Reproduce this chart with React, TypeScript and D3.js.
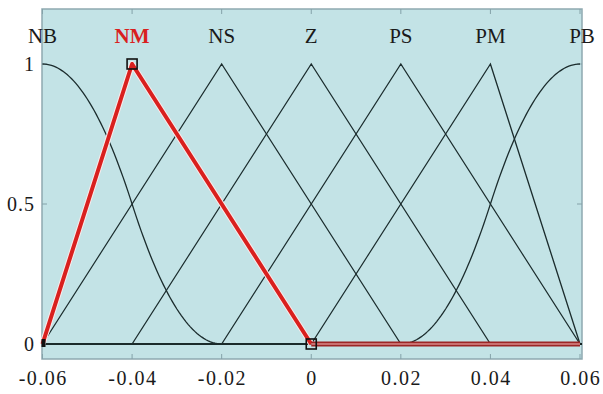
import React, { useEffect, useRef } from 'react';
import * as d3 from 'd3';

// membership functions, one per linguistic term
const mfNames = ['NB', 'NM', 'NS', 'Z', 'PS', 'PM', 'PB'];
const mfTypes = ['zmf', 'trimf', 'trimf', 'trimf', 'trimf', 'trimf', 'smf'];
const mfParams = [
  [-0.06, -0.02],
  [-0.06, -0.04, 0],
  [-0.06, -0.02, 0.02],
  [-0.04, 0, 0.04],
  [-0.02, 0.02, 0.06],
  [0, 0.04, 0.06],
  [0.02, 0.06],
];
const labelPos = [-0.06, -0.04, -0.02, 0, 0.02, 0.04, 0.06];
const highlighted = 'NM';

const xTicks = [-0.06, -0.04, -0.02, 0, 0.02, 0.04, 0.06];
const xTickLabels = ['-0.06', '-0.04', '-0.02', '0', '0.02', '0.04', '0.06'];
const yTicks = [0, 0.5, 1];
const yTickLabels = ['0', '0.5', '1'];

const W = 603;
const H = 394;
const plot = { left: 42, right: 582, top: 9, bottom: 359 };

const evalMf = (type: string, p: number[], x: number) => {
  if (type === 'trimf') {
    const [a, b, c] = p;
    if (x <= a || x >= c) return 0;
    return x <= b ? (x - a) / (b - a) : (c - x) / (c - b);
  }
  const [a, b] = p;
  const m = (a + b) / 2;
  let s: number;
  if (x <= a) s = 0;
  else if (x <= m) s = 2 * ((x - a) / (b - a)) ** 2;
  else if (x <= b) s = 1 - 2 * ((x - b) / (b - a)) ** 2;
  else s = 1;
  return type === 'smf' ? s : 1 - s;
};

const App: React.FC = () => {
  const svgRef = useRef<SVGSVGElement>(null);

  useEffect(() => {
    document.body.style.margin = '0';
    if (!svgRef.current) return;
    const svg = d3.select(svgRef.current);
    svg.selectAll('*').remove();

    const x = d3.scaleLinear().domain([-0.06, 0.06]).range([42.5, 580]);
    const y = d3.scaleLinear().domain([0, 1]).range([344, 64]);

    svg.append('rect').attr('width', W).attr('height', H).attr('fill', '#ffffff');

    // plot background
    svg.append('rect')
      .attr('x', plot.left).attr('y', plot.top)
      .attr('width', plot.right - plot.left).attr('height', plot.bottom - plot.top)
      .attr('fill', '#c3e3e6')
      .attr('stroke', '#8ea9b0').attr('stroke-width', 1.5);

    // small inside ticks on the frame
    const tickColor = '#84a2a9';
    xTicks.forEach(t => {
      svg.append('line').attr('x1', x(t)).attr('x2', x(t))
        .attr('y1', plot.top).attr('y2', plot.top + 5)
        .attr('stroke', tickColor);
      svg.append('line').attr('x1', x(t)).attr('x2', x(t))
        .attr('y1', plot.bottom).attr('y2', plot.bottom - 5)
        .attr('stroke', tickColor);
    });
    yTicks.forEach(t => {
      svg.append('line').attr('x1', plot.left).attr('x2', plot.left + 5)
        .attr('y1', y(t)).attr('y2', y(t)).attr('stroke', tickColor);
      svg.append('line').attr('x1', plot.right).attr('x2', plot.right - 5)
        .attr('y1', y(t)).attr('y2', y(t)).attr('stroke', tickColor);
    });

    const samples = d3.range(0, 241).map(i => -0.06 + i * 0.0005);
    const line = d3.line<[number, number]>().x(d => x(d[0])).y(d => y(d[1]));

    // baseline
    svg.append('line')
      .attr('x1', plot.left).attr('x2', plot.right)
      .attr('y1', y(0)).attr('y2', y(0))
      .attr('stroke', '#14201f').attr('stroke-width', 2);

    // black curves
    mfNames.forEach((name, i) => {
      if (name === highlighted) return;
      const pts = samples
        .map(v => [v, evalMf(mfTypes[i], mfParams[i], v)] as [number, number]);
      svg.append('path')
        .attr('d', line(pts))
        .attr('fill', 'none')
        .attr('stroke', '#1b2c2d')
        .attr('stroke-width', 1.3);
    });

    // highlighted term
    const hi = mfNames.indexOf(highlighted);
    const hp = mfParams[hi];
    const hiPts: [number, number][] = [[hp[0], 0], [hp[1], 1], [hp[2], 0]];
    svg.append('path')
      .attr('d', line(hiPts))
      .attr('fill', 'none')
      .attr('stroke', '#fbeaea').attr('stroke-width', 6)
      .attr('stroke-linejoin', 'round');
    svg.append('path')
      .attr('d', line(hiPts))
      .attr('fill', 'none')
      .attr('stroke', '#d9201e').attr('stroke-width', 4)
      .attr('stroke-linejoin', 'round');
    // rest of domain at zero
    svg.append('line')
      .attr('x1', x(hp[2])).attr('x2', x(0.06))
      .attr('y1', y(0)).attr('y2', y(0))
      .attr('stroke', '#9c2626').attr('stroke-width', 5);
    svg.append('line')
      .attr('x1', x(hp[2])).attr('x2', x(0.06))
      .attr('y1', y(0)).attr('y2', y(0))
      .attr('stroke', '#d98a8a').attr('stroke-width', 1.5);

    // vertex markers
    const markers: [number, number][] = [[hp[1], 1], [hp[2], 0]];
    markers.forEach(([mx, my]) => {
      svg.append('rect')
        .attr('x', x(mx) - 5).attr('y', y(my) - 5)
        .attr('width', 10).attr('height', 10)
        .attr('fill', 'none').attr('stroke', '#111').attr('stroke-width', 1.6);
    });
    svg.append('rect')
      .attr('x', x(hp[0]) - 1).attr('y', y(0) - 5)
      .attr('width', 4).attr('height', 8)
      .attr('fill', '#111');

    // term labels
    mfNames.forEach((name, i) => {
      svg.append('text')
        .attr('x', x(labelPos[i]) + (i === mfNames.length - 1 ? 2 : 0))
        .attr('y', 43)
        .attr('text-anchor', 'middle')
        .attr('font-family', '"Liberation Serif", "DejaVu Serif", serif')
        .attr('font-size', 21)
        .attr('font-weight', name === highlighted ? 'bold' : 'normal')
        .attr('fill', name === highlighted ? '#d9201e' : '#1a1a1a')
        .text(name);
    });

    // axis labels
    xTicks.forEach((t, i) => {
      svg.append('text')
        .attr('x', x(t) + 0.75).attr('y', 385)
        .attr('text-anchor', 'middle')
        .attr('font-family', '"Liberation Serif", "DejaVu Serif", serif')
        .attr('font-size', 20)
        .attr('letter-spacing', 1.5)
        .attr('fill', '#1a1a1a')
        .text(xTickLabels[i]);
    });
    yTicks.forEach((t, i) => {
      svg.append('text')
        .attr('x', 35).attr('y', y(t) + 7)
        .attr('text-anchor', 'end')
        .attr('font-family', '"Liberation Serif", "DejaVu Serif", serif')
        .attr('font-size', 20)
        .attr('letter-spacing', 1)
        .attr('fill', '#1a1a1a')
        .text(yTickLabels[i]);
    });
  }, []);

  return <svg ref={svgRef} width={W} height={H} style={{ display: 'block' }} />;
};

export default App;
